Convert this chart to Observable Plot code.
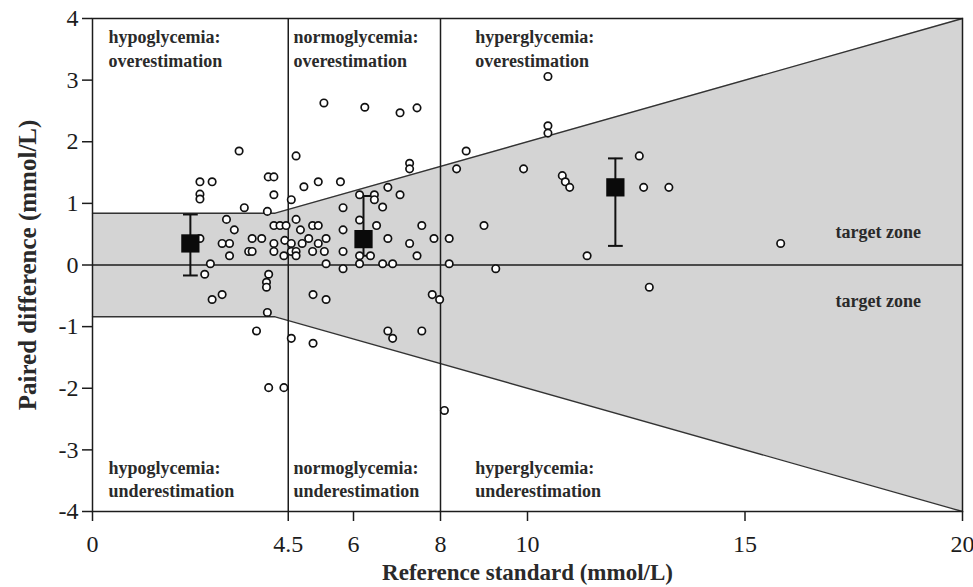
<!DOCTYPE html>
<html><head><meta charset="utf-8">
<script src="https://cdn.jsdelivr.net/npm/d3@7"></script>
<script src="https://cdn.jsdelivr.net/npm/@observablehq/plot@0.6"></script>
<style>body{margin:0;background:#fff}</style>
</head><body><div id="chart"></div>
<script>
// Individual paired measurements
const refStandard = [2.47,2.75,2.47,2.47,3.37,4.04,4.17,4.17,3.49,4.02,3.08,3.26,4.17,4.31,4.45,2.47,2.98,3.15,3.15,3.59,3.67,3.67,3.89,4.17,4.17,4.42,4.57,4.57,4.40,4.68,4.68,2.71,2.58,4.05,4.00,4.00,2.75,2.98,4.02,3.77,4.05,4.40,
  5.32,6.26,4.68,4.86,5.19,5.70,4.57,6.14,6.48,6.48,5.76,4.68,4.78,5.06,5.19,5.76,6.14,6.53,4.82,4.97,5.06,5.19,5.37,5.33,5.37,5.76,5.76,6.14,6.39,6.14,5.07,5.37,4.57,5.07,
  7.07,7.46,7.29,7.29,6.79,7.07,6.67,6.79,7.29,7.46,7.57,7.85,6.67,6.90,7.81,7.98,6.79,6.90,7.57,
  8.20,8.20,9.27,8.59,8.37,10.47,10.47,10.47,9.91,10.80,10.87,10.97,9.00,11.37,12.57,12.67,13.25,15.82,12.80,8.09];
const pairedDiff = [1.35,1.35,1.15,1.07,1.85,1.43,1.43,1.14,0.93,0.87,0.74,0.57,0.64,0.64,0.64,0.43,0.35,0.35,0.15,0.22,0.22,0.43,0.43,0.35,0.22,0.40,0.35,0.22,0.15,0.22,0.15,0.02,-0.15,-0.15,-0.28,-0.36,-0.56,-0.48,-0.77,-1.07,-1.99,-1.99,
  2.63,2.56,1.77,1.27,1.35,1.35,1.06,1.14,1.14,1.06,0.93,0.74,0.57,0.64,0.64,0.57,0.73,0.64,0.35,0.43,0.22,0.35,0.43,0.22,0.02,0.22,-0.06,0.15,0.15,0.02,-0.48,-0.56,-1.19,-1.27,
  2.47,2.55,1.65,1.56,1.26,1.14,0.94,0.43,0.35,0.15,0.64,0.43,0.02,0.02,-0.48,-0.56,-1.07,-1.19,-1.07,
  0.43,0.02,-0.06,1.85,1.56,3.06,2.26,2.14,1.56,1.45,1.35,1.26,0.64,0.15,1.77,1.26,1.26,0.35,-0.36,-2.36];

// Group means with error bars
const meanRef = [2.25, 6.23, 12.02];
const meanDiff = [0.35, 0.42, 1.26];
const meanLow = [-0.17, 0.15, 0.31];
const meanHigh = [0.82, 1.12, 1.73];

// Target zone boundary (±0.84 below 4.2 mmol/L, ±20% above)
const zoneX = [0, 4.2, 20];
const zoneLow = [-0.84, -0.84, -4];
const zoneHigh = [0.84, 0.84, 4];

// Glycemia thresholds
const thresholds = [4.5, 8];

// Ticks
const xTicks = [0, 4.5, 6, 8, 10, 15, 20];
const yTicks = [-4, -3, -2, -1, 0, 1, 2, 3, 4];

// Region labels
const regionNames = ["hypoglycemia:", "normoglycemia:", "hyperglycemia:"];
const regionX = [0.37, 4.62, 8.8];
const overY = 3.87;
const underY = -3.12;
const targetLabelX = 17.08;
const targetLabelY = [0.53, -0.58];

const points = refStandard.map((x, i) => ({x, y: pairedDiff[i]}));
const means = meanRef.map((x, i) => ({x, y: meanDiff[i], lo: meanLow[i], hi: meanHigh[i]}));
const zone = zoneX.map((x, i) => ({x, lo: zoneLow[i], hi: zoneHigh[i]}));
const labelsOver = regionNames.map((n, i) => ({x: regionX[i], text: n + "\noverestimation"}));
const labelsUnder = regionNames.map((n, i) => ({x: regionX[i], text: n + "\nunderestimation"}));
const targetLabels = targetLabelY.map(y => ({x: targetLabelX, y, text: "target zone"}));

const serif = "'Liberation Serif', 'Times New Roman', Times, serif";
const ink = "#1c1c1c";
const capHalf = 0.17;

const chart = Plot.plot({
  width: 973, height: 587,
  marginLeft: 92, marginRight: 11, marginTop: 18, marginBottom: 76,
  x: {domain: [0, 20]},
  y: {domain: [-4, 4]},
  style: {fontFamily: serif, fontSize: "24px", color: ink, background: "#fff"},
  marks: [
    Plot.areaY(zone, {x: "x", y1: "lo", y2: "hi", fill: "#d4d4d4"}),
    Plot.line(zone, {x: "x", y: "hi", stroke: "#333", strokeWidth: 1.3}),
    Plot.line(zone, {x: "x", y: "lo", stroke: "#333", strokeWidth: 1.3}),
    Plot.ruleY([0], {stroke: ink, strokeWidth: 1.5}),
    Plot.ruleX(thresholds, {stroke: ink, strokeWidth: 1.5}),
    Plot.frame({stroke: ink, strokeWidth: 1.5}),
    Plot.axisX({ticks: xTicks, tickSize: 10, tickPadding: 13, tickFormat: d => String(d), label: null, fontSize: 24, stroke: ink, strokeWidth: 1.5}),
    Plot.axisY({ticks: yTicks, tickSize: 10, tickPadding: 4, tickFormat: d => String(d), label: null, fontSize: 24, stroke: ink, strokeWidth: 1.5}),
    Plot.ruleX(means, {x: "x", y1: "lo", y2: "hi", stroke: "#111", strokeWidth: 2}),
    Plot.link(means, {x1: d => d.x - capHalf, x2: d => d.x + capHalf, y1: "hi", y2: "hi", stroke: "#111", strokeWidth: 2}),
    Plot.link(means, {x1: d => d.x - capHalf, x2: d => d.x + capHalf, y1: "lo", y2: "lo", stroke: "#111", strokeWidth: 2}),
    Plot.dot(points, {x: "x", y: "y", r: 3.7, fill: "white", stroke: "#111", strokeWidth: 1.7}),
    Plot.dot(means, {x: "x", y: "y", symbol: "square", r: 10.3, fill: "#0a0a0a", stroke: "none"}),
    Plot.text(labelsOver, {x: "x", y: overY, text: "text", textAnchor: "start", lineAnchor: "top", lineHeight: 1.3, fontSize: 18, fontWeight: "bold", fill: "#2a2a2a"}),
    Plot.text(labelsUnder, {x: "x", y: underY, text: "text", textAnchor: "start", lineAnchor: "top", lineHeight: 1.3, fontSize: 18, fontWeight: "bold", fill: "#2a2a2a"}),
    Plot.text(targetLabels, {x: "x", y: "y", text: "text", textAnchor: "start", lineAnchor: "middle", fontSize: 18, fontWeight: "bold", fill: "#2a2a2a"}),
    Plot.text(["Reference standard (mmol/L)"], {text: d => d, frameAnchor: "bottom", textAnchor: "middle", dy: 68, fontSize: 23, fontWeight: "bold", fill: "#2a2a2a"}),
    Plot.text(["Paired difference (mmol/L)"], {text: d => d, frameAnchor: "left", textAnchor: "middle", dx: -65, rotate: -90, fontSize: 25, fontWeight: "bold", fill: "#2a2a2a"})
  ]
});
document.getElementById("chart").appendChild(chart);
</script>
</body></html>
